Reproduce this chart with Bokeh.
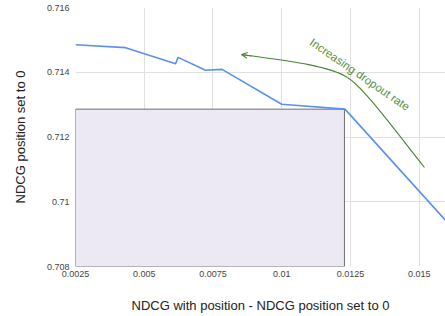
from bokeh.plotting import figure
from bokeh.models import FixedTicker, Label, Arrow, OpenHead, Range1d
from bokeh.embed import file_html
from bokeh.resources import INLINE

# Data
line_x = [0.0025, 0.00432, 0.00614, 0.00623, 0.00723, 0.00783, 0.0100, 0.0123, 0.0166]
line_y = [0.71485, 0.71476, 0.71426, 0.71446, 0.71406, 0.71409, 0.71301, 0.71286, 0.70882]

box_left, box_right = 0.0025, 0.01228
box_bottom, box_top = 0.708, 0.71286

# annotation curve as two cubic bezier segments
curve_x0 = [0.015191, 0.012391]
curve_y0 = [0.711058, 0.713838]
curve_cx0 = [0.013955, 0.011664]
curve_cy0 = [0.712386, 0.714239]
curve_cx1 = [0.012936, 0.009809]
curve_cy1 = [0.713560, 0.714394]
curve_x1 = [0.012391, 0.008536]
curve_y1 = [0.713838, 0.714548]
arrow_start = (0.0089, 0.714502)

x_ticks = [0.0025, 0.005, 0.0075, 0.01, 0.0125, 0.015]
x_labels = ["0.0025", "0.005", "0.0075", "0.01", "0.0125", "0.015"]
y_ticks = [0.708, 0.71, 0.712, 0.714, 0.716]
y_labels = ["0.708", "0.71", "0.712", "0.714", "0.716"]

annotation_text = "Increasing dropout rate"
annotation_x, annotation_y = 0.011190, 0.715120

FONT = "Liberation Sans"
GREEN = "#4a8430"
BLUE = "#5b8ff2"

p = figure(width=445, height=316, output_backend="svg", toolbar_location=None,
           x_range=Range1d(0.0025, 0.015955), y_range=Range1d(0.708, 0.716),
           min_border_left=75, min_border_right=0, min_border_top=7, min_border_bottom=50)
p.outline_line_color = None
p.background_fill_color = "white"

p.xaxis.ticker = FixedTicker(ticks=x_ticks)
p.yaxis.ticker = FixedTicker(ticks=y_ticks)
p.xaxis.major_label_overrides = {t: l for t, l in zip(x_ticks, x_labels)}
p.yaxis.major_label_overrides = {t: l for t, l in zip(y_ticks, y_labels)}

for ax in (p.xaxis, p.yaxis):
    ax.axis_line_color = None
    ax.major_tick_line_color = None
    ax.minor_tick_line_color = None
    ax.major_label_text_font = FONT
    ax.major_label_text_font_size = "9px"
    ax.major_label_text_color = "#444444"
    ax.axis_label_text_font = FONT
    ax.axis_label_text_font_size = "13px"
    ax.axis_label_text_font_style = "normal"
    ax.axis_label_text_color = "#222222"
    ax.major_tick_out = 0
    ax.major_tick_in = 0

p.xaxis.axis_label = "NDCG with position - NDCG position set to 0"
p.yaxis.axis_label = "NDCG position set to 0"
p.xaxis.major_label_standoff = 4
p.yaxis.major_label_standoff = 6
p.xaxis.axis_label_standoff = 18
p.yaxis.axis_label_standoff = 16

p.grid.grid_line_color = "#e0e0e0"
p.grid.grid_line_width = 1

p.quad(left=[box_left], right=[box_right], bottom=[box_bottom], top=[box_top],
       fill_color="#ece9f5", line_color="#6e6e6e", line_width=1)

p.line(line_x, line_y, line_color=BLUE, line_width=1.6)

p.bezier(x0=curve_x0, y0=curve_y0, x1=curve_x1, y1=curve_y1,
         cx0=curve_cx0, cy0=curve_cy0, cx1=curve_cx1, cy1=curve_cy1,
         line_color=GREEN, line_width=1.1)
p.add_layout(Arrow(end=OpenHead(size=6, line_color=GREEN, line_width=1.1),
                   x_start=arrow_start[0], y_start=arrow_start[1],
                   x_end=curve_x1[-1], y_end=curve_y1[-1],
                   line_color=GREEN, line_width=1.1))

p.add_layout(Label(x=annotation_x, y=annotation_y, text=annotation_text,
                   angle=-34.5, angle_units="deg", text_align="left", text_baseline="top",
                   text_font=FONT, text_font_size="11.5px", text_color="#5a9040"))

open("out.html", "w").write(file_html(p, INLINE))
